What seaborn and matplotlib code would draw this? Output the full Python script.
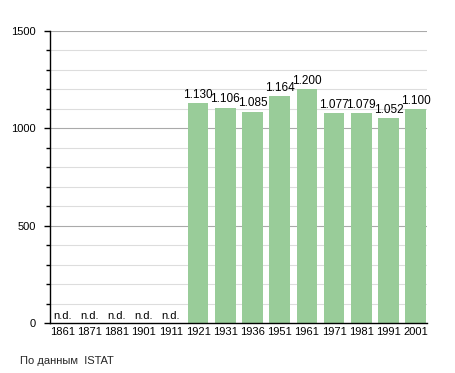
import numpy as np
import pandas as pd
import matplotlib.pyplot as plt
import seaborn as sns

# ── DATA ──────────────────────────────────────────
years = ['1861', '1871', '1881', '1901', '1911', '1921', '1931',
         '1936', '1951', '1961', '1971', '1981', '1991', '2001']
population = [np.nan, np.nan, np.nan, np.nan, np.nan, 1130, 1106,
              1085, 1164, 1200, 1077, 1079, 1052, 1100]
source_note = 'По данным  ISTAT'

df = pd.DataFrame({'year': years, 'pop': population})

# ── PLOT ──────────────────────────────────────────
sns.set_style('white')
plt.rcParams['font.family'] = ['Liberation Sans', 'DejaVu Sans']

fig = plt.figure(figsize=(4.55, 3.73), dpi=100)
ax = fig.add_axes([50 / 455, 1 - 323 / 373, 377 / 455, 292 / 373])

# grid: light every 100, darker every 500
for y in range(100, 1501, 100):
    ax.axhline(y, color='#aaaaaa' if y % 500 == 0 else '#dddddd',
               lw=0.8, zorder=0)

sns.barplot(data=df, x='year', y='pop', color='#99cc99', saturation=1,
            width=0.76, linewidth=0, ax=ax, zorder=2)

for i, v in enumerate(population):
    if np.isnan(v):
        ax.text(i, 12, 'n.d.', ha='center', va='bottom', fontsize=8,
                color='black')
    else:
        label = f'{v / 1000:.3f}'
        ax.text(i, v + 12, label, ha='center', va='bottom', fontsize=8.5,
                color='black')

ax.set_ylim(0, 1500)
ax.set_xlim(-0.45, 13.42)
ax.set_yticks([0, 500, 1000, 1500])
ax.set_yticks(range(0, 1501, 100), minor=True)
ax.tick_params(axis='y', which='both', left=True, direction='out',
               color='black', width=1)
ax.tick_params(axis='y', which='major', length=4, labelsize=8, pad=6,
               labelcolor='black')
ax.tick_params(axis='y', which='minor', length=3)
ax.tick_params(axis='x', length=0, labelsize=8, pad=3, labelcolor='black')
ax.set_xlabel('')
ax.set_ylabel('')

for s in ['top', 'right']:
    ax.spines[s].set_visible(False)
ax.spines['left'].set_color('black')
ax.spines['bottom'].set_color('black')
ax.spines['left'].set_linewidth(1)
ax.spines['bottom'].set_linewidth(1)

fig.text(20 / 455, 1 - 361 / 373, source_note, fontsize=8, va='center')

plt.savefig('out.png', dpi=100)
